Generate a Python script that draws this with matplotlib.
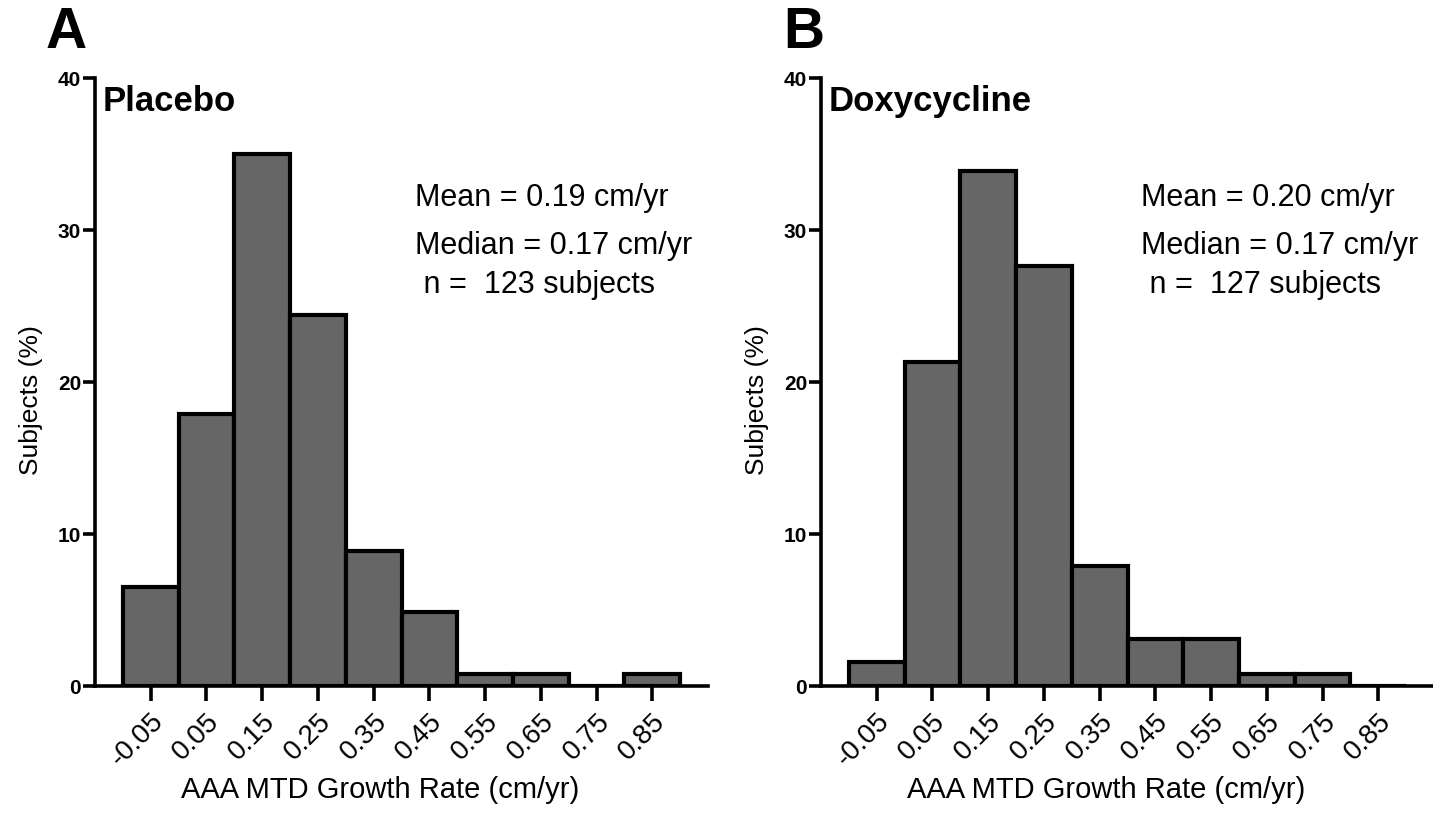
import numpy as np
import matplotlib
matplotlib.use('Agg')
import matplotlib.pyplot as plt

plt.rcParams['font.family'] = ['Liberation Sans', 'DejaVu Sans']

# bin centres (cm/yr) and percent of subjects in each bin
bins = [-0.05, 0.05, 0.15, 0.25, 0.35, 0.45, 0.55, 0.65, 0.75, 0.85]
tick_labels = ['-0.05', '0.05', '0.15', '0.25', '0.35', '0.45', '0.55', '0.65', '0.75', '0.85']
placebo_pct = [6.5, 17.9, 35.0, 24.4, 8.9, 4.9, 0.8, 0.8, 0.0, 0.8]
doxy_pct = [1.6, 21.3, 33.9, 27.6, 7.9, 3.1, 3.1, 0.8, 0.8, 0.0]

panels = [
    ('A', 'Placebo', placebo_pct, ['Mean = 0.19 cm/yr', 'Median = 0.17 cm/yr', ' n =  123 subjects']),
    ('B', 'Doxycycline', doxy_pct, ['Mean = 0.20 cm/yr', 'Median = 0.17 cm/yr', ' n =  127 subjects']),
]

fig = plt.figure(figsize=(14.33, 8.14), dpi=100)
lefts = [95 / 1433, 821 / 1433]
letter_x = [46 / 1433, 783 / 1433]
stat_y = [(686 - 198) / 608, (686 - 246) / 608, (686 - 285) / 608]

for (letter, title, pct, stats), left, lx in zip(panels, lefts, letter_x):
    ax = fig.add_axes([left, 1 - 686 / 814, 613 / 1433, 608 / 814])
    ax.bar(bins, pct, width=0.1, color='#666666', edgecolor='black', linewidth=3, zorder=2)
    ax.set_xlim(-0.15, 0.95)
    ax.set_ylim(0, 40)
    for s in ['top', 'right']:
        ax.spines[s].set_visible(False)
    for s in ['left', 'bottom']:
        ax.spines[s].set_linewidth(2.6)
        ax.spines[s].set_zorder(3)
    ax.set_yticks([0, 10, 20, 30, 40])
    ax.set_yticklabels(['0', '10', '20', '30', '40'], fontweight='bold', fontsize=15)
    ax.tick_params(axis='y', length=9, width=2.6, pad=1)
    ax.set_xticks(bins)
    ax.set_xticklabels(tick_labels, rotation=45, ha='right', rotation_mode='anchor', fontsize=20)
    ax.tick_params(axis='x', length=11, width=2.6, pad=5)
    ax.set_ylabel('Subjects (%)', fontsize=19)
    ax.yaxis.set_label_coords(-0.085, 0.47)
    ax.set_xlabel('AAA MTD Growth Rate (cm/yr)', fontsize=21)
    ax.xaxis.set_label_coords(0.465, -0.148)
    ax.text(0.013, 0.962, title, transform=ax.transAxes, fontsize=25, fontweight='bold',
            va='center', ha='left')
    for line, y in zip(stats, stat_y):
        ax.text(0.522, y, line, transform=ax.transAxes, fontsize=22, va='center', ha='left')
    fig.text(lx, 0.941, letter, fontsize=41, fontweight='bold', va='baseline', ha='left')

fig.savefig('out.png', dpi=100)
